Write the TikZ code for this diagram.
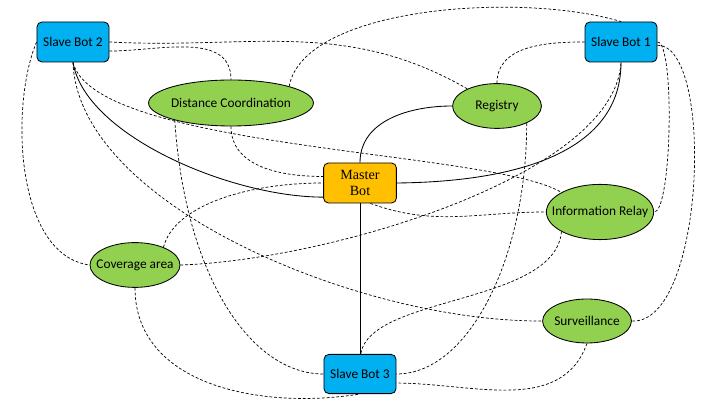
\documentclass[tikz,border=0pt]{standalone}
\usepackage{fontspec}
\setmainfont{Carlito}
\newfontfamily\timesfont{Liberation Serif}
\usetikzlibrary{shapes.geometric}
\definecolor{botblue}{HTML}{00B0F0}
\definecolor{taskgreen}{HTML}{92D050}
\definecolor{masterorange}{HTML}{FFC000}
\newcommand{\tname}[1]{\makebox[0pt]{#1}}
\tikzset{
	bot/.style={draw, line width=.6pt, rounded corners=3.5pt, fill=botblue, minimum width=1.8cm, minimum height=1cm, font=\fontsize{9.5}{11}\selectfont},
	task/.style={draw, line width=.6pt, ellipse, fill=taskgreen, inner sep=0pt, font=\fontsize{9.5}{11}\selectfont},
	link/.style={dash pattern=on 2pt off 1.4pt, line width=.5pt},
	tie/.style={line width=.6pt}
}
\begin{document}
\begin{tikzpicture}[x=.025cm,y=.025cm]
		\useasboundingbox (0,0) rectangle (720,405);
		\node[bot] (sbtwo) at (73,363) {Slave Bot 2};
		\node[bot] (sbone) at (621,363) {Slave Bot 1};
		\node[bot, minimum height=.98cm] (sbthree) at (360,31) {Slave Bot 3};
		\node[bot, fill=masterorange, minimum width=1.82cm, align=center, font=\timesfont\fontsize{10}{11.5}\selectfont] (master) at (360,222) {Master\\Bot};
		
		\node[task, minimum width=4.12cm, minimum height=1.15cm] (dist) at (231,302) {\tname{Distance Coordination}};
		\node[task, minimum width=2.22cm, minimum height=1.12cm] (reg) at (497,299) {\tname{Registry}};
		\node[task, minimum width=2.68cm, minimum height=1.38cm] (relay) at (600,193) {\tname{Information Relay}};
		\node[task, minimum width=2.25cm, minimum height=1.12cm] (cover) at (135,140) {\tname{Coverage area}};
		\node[task, minimum width=2.22cm, minimum height=1.1cm] (surv) at (587,84) {\tname{Surveillance}};
		
		\draw[tie] (sbtwo.south) .. controls (85,270) and (230,208) .. (master.201);
		\draw[tie] (master.north) to[out=90,in=180] (reg.west);
		\draw[tie] (master.east) .. controls (496,223) and (621,244) .. (sbone.south);
		\draw[tie] (master.south) -- (sbthree.north);
		
		\draw[link] (sbtwo.east) to[out=-3,in=150] (reg.150);
		\draw[link] (sbtwo.-14) to[out=0,in=90] (dist.north);
		\draw[link] (dist.16) .. controls +(15,80) and +(-100,30) .. (sbone.north);
		\draw[link] (reg.north) to[out=90,in=180] (sbone.west);
		\draw[link] (sbtwo.south) .. controls (95,255) and (490,255) .. (relay.153);
		\draw[link] (dist.south) to[out=-90,in=180] (master.170);
		\draw[link] (dist.197) .. controls (185,130) and (250,31) .. (sbthree.west);
		\draw[link] (sbtwo.south) .. controls (78,200) and (360,83) .. (surv.west);
		\draw[link] (sbtwo.west) .. controls (10,300) and (15,150) .. (cover.west);
		\draw[link] (cover.32) .. controls +(10,40) and +(-80,0) .. (master.180);
		\draw[link] (cover.east) .. controls (330,145) and (615,230) .. (sbone.south);
		\draw[link] (cover.south) .. controls (135,20) and (260,-5) .. (sbthree.south);
		\draw[link] (master.297) to[out=-20,in=180] (relay.west);
		\draw[link] (reg.-30) .. controls (527,150) and (470,31) .. (sbthree.east);
		\draw[link] (relay.207) .. controls (555,100) and (370,110) .. (sbthree.88);
		\draw[link] (surv.south) to[out=-110,in=0] (sbthree.-14);
		\draw[link] (sbone.east) .. controls (675,363) and (672,193) .. (relay.east);
		\draw[link] (sbone.-5) .. controls (715,360) and (705,80) .. (surv.east);
\end{tikzpicture}
\end{document}
